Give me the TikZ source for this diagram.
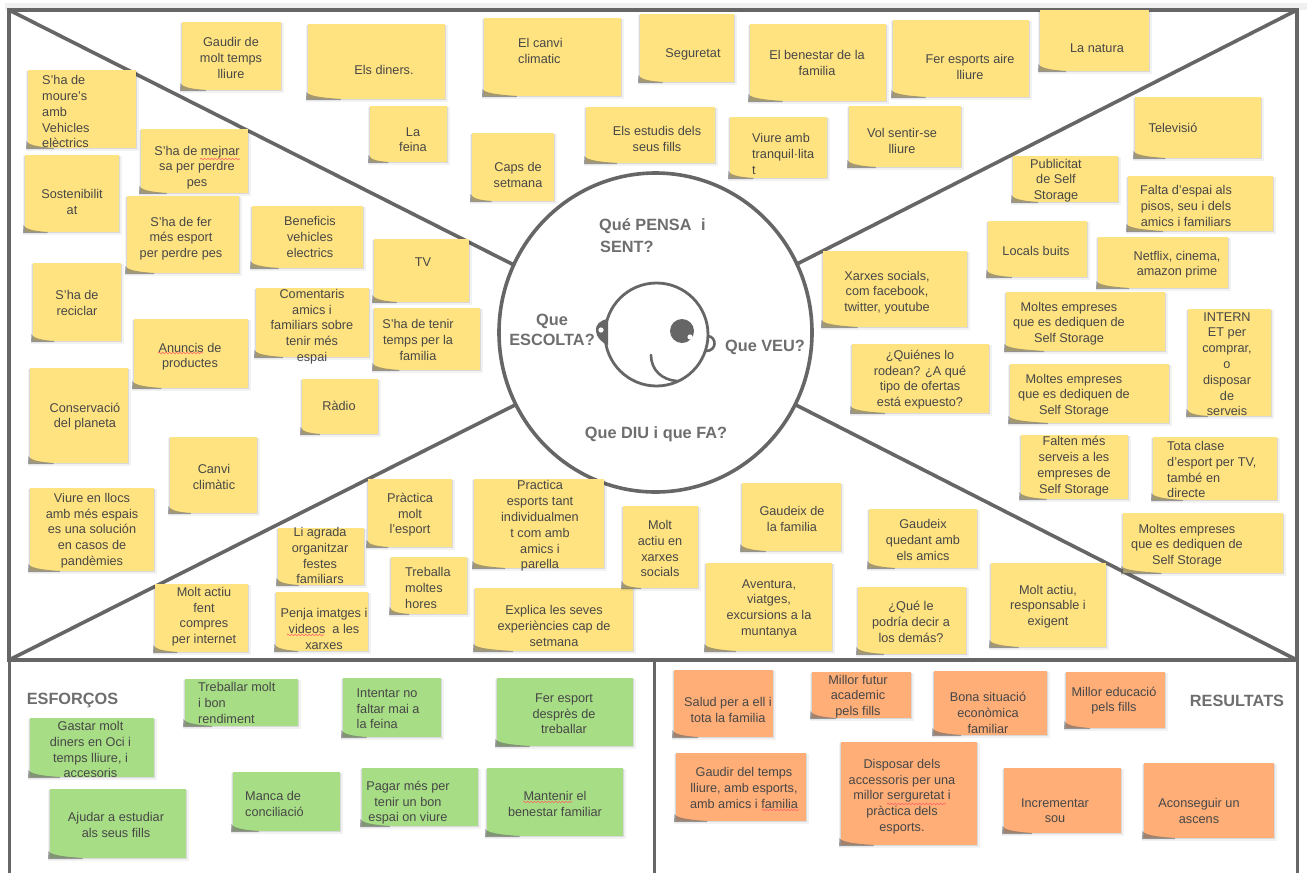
\documentclass[tikz,border=0pt]{standalone}
\usepackage{fontspec}
\setmainfont{Liberation Sans}
\usetikzlibrary{decorations.pathmorphing,shapes.geometric}
\definecolor{yel}{HTML}{FFE380}
\definecolor{grn}{HTML}{A7DD85}
\definecolor{org}{HTML}{FFAE78}
\definecolor{frm}{HTML}{666666}
\definecolor{lab}{HTML}{6E6E6E}
\definecolor{txt}{HTML}{474747}
\colorlet{stickcol}{yel}
\tikzset{
  frameline/.style={draw=frm,line width=4pt},
  raysline/.style={draw=frm,line width=3.6pt},
  lowline/.style={draw=frm,line width=3pt},
  stickbox/.style={fill=stickcol,draw=none,inner sep=0pt,outer sep=0pt},
  softshadow/.style={fill=black,fill opacity=.10},
  softshadowb/.style={fill=black,fill opacity=.05},
  cornershadow/.style={fill=frm,fill opacity=.6},
  txc/.style={text=txt,font=\fontsize{12.7}{15.8}\selectfont,align=center,inner sep=0pt},
  txl/.style={text=txt,font=\fontsize{12.7}{15.8}\selectfont,align=left,inner sep=0pt,anchor=west},
  bigl/.style={text=lab,font=\fontsize{16.3}{20}\selectfont\bfseries,inner sep=0pt},
  bigla/.style={bigl,align=left,anchor=west},
  biglc/.style={bigl,align=center},
  hubshape/.style={ellipse,draw=frm,line width=3.6pt,inner sep=0pt,minimum width=313pt,minimum height=319pt},
  spell/.style={draw=red!60!white,line width=.6pt,decorate,decoration={snake,amplitude=.8pt,segment length=3.5pt}},
  facel/.style={draw=frm,line width=2.8pt,line cap=round}
}
% name, text, x0,y0,x1,y1, text style, text position
\newcommand{\stick}[8]{%
  \pgfmathsetmacro{\sw}{#5-#3}%
  \pgfmathsetmacro{\sh}{#6-#4}%
  \pgfmathsetmacro{\scx}{(#3+#5)/2}%
  \pgfmathsetmacro{\scy}{(#4+#6)/2}%
  \pgfmathsetmacro{\swedge}{#3+0.24*\sw}%
  \fill[softshadowb] (#3-2.5,#4+1) rectangle (#5+2.5,#6+2.6);
  \fill[softshadow] (#3-1,#4+1) rectangle (#5+1.2,#6+1.4);
  \node[stickbox,minimum width=\sw pt,minimum height=\sh pt] (#1) at (\scx,\scy) {};
  \fill[cornershadow] (#3-1.5,#6-7) .. controls (#3+.5,#6-2) and (\swedge-10,#6-.8) .. (\swedge,#6) -- (\swedge,#6+1) -- (#3-2,#6+1) -- cycle;
  \node[#7,yshift=-.7pt] (#1t) at (#8) {#2};
}
\begin{document}
\begin{tikzpicture}[x=1pt,y=-1pt]
\useasboundingbox (0,0) rectangle (1307,873);
\fill[white] (0,0) rectangle (1307,873);
\fill[black!6] (5,3) rectangle (1307,10);

\coordinate (tl) at (9,10);
\coordinate (tr) at (1297,10);
\coordinate (bl) at (9,660);
\coordinate (br) at (1297,660);
\coordinate (lb) at (9,873);
\coordinate (rb) at (1297,873);
\coordinate (mt) at (654,660);
\coordinate (mb) at (654,873);
\coordinate (ctl) at (514,265);
\coordinate (ctr) at (797,264);
\coordinate (cbl) at (515,405);
\coordinate (cbr) at (796,405);

\draw[raysline] (tl) -- (ctl);
\draw[raysline] (tr) -- (ctr);
\draw[raysline] (bl) -- (cbl);
\draw[raysline] (br) -- (cbr);
\draw[lowline] (bl) -- (lb);
\draw[lowline] (br) -- (rb);
\draw[lowline] (mt) -- (mb);
\draw[frameline] (tl) rectangle (br);
\node[hubshape] (hub) at (655.5,332.5) {};

% head
\draw[facel] (656.5,334.5) circle (51.5);
\fill[frm] (682,331) circle (12);
\fill[white] (690,337) circle (2.6);
\draw[facel,line width=2.6pt] (651,355) .. controls (651,370) and (662,380) .. (677,381);
\draw[facel,line width=2.6pt] (708,336) .. controls (717,337) and (717,351) .. (706,351);
\fill[frm] (608,319) .. controls (600,320) and (595,325) .. (596,331) .. controls (596,337) and (602,343) .. (608,345) -- cycle;
\fill[white] (601,330) circle (2.6);

% headings
\node[bigla] (qpensa) at (599,226.5) {Qué PENSA\hspace{5pt} i};
\node[bigla] (qsent) at (600,246.5) {SENT?};
\node[biglc] (qesc) at (552,329.5) {Que\\ESCOLTA?};
\node[biglc] (qveu) at (765,347.5) {Que VEU?};
\node[biglc] (qdiu) at (656,434.5) {Que DIU i que FA?};
\node[biglc] (esf) at (72.5,700.5) {ESFORÇOS};
\node[biglc] (res) at (1237,700.5) {RESULTATS};

% yellow notes
\colorlet{stickcol}{yel}
\stick{a1}{Gaudir de\\molt temps\\lliure}{182}{22}{281}{90}{txc}{231,57}
\stick{a2}{Els diners.}{308}{24}{445}{99}{txc}{384,69}
\stick{a3}{La\\feina}{370}{106}{447}{162}{txc}{413,139}
\stick{a4}{S'ha de\\moure's\\amb\\Vehicles\\elèctrics}{28}{70}{136}{148}{txl}{42,111}
\stick{a5}{Sostenibilit\\at}{25}{155}{119}{232}{txc}{72,201}
\stick{a6}{S'ha de mejnar\\sa per perdre\\pes}{141}{129}{248}{193}{txc}{197,167}
\stick{a7}{S'ha de fer\\més esport\\per perdre pes}{127}{196}{239}{273}{txc}{181,238}
\stick{a8}{Beneficis\\vehicles\\electrics}{252}{206}{363}{268}{txc}{310,236}
\stick{a9}{TV}{374}{239}{469}{302}{txc}{423,261}
\stick{a10}{Comentaris\\amics i\\familiars sobre\\tenir més\\espai}{256}{288}{369}{357}{txc}{312,326}
\stick{a11}{S'ha de tenir\\temps per la\\familia}{374}{308}{480}{370}{txc}{418,339}
\stick{a12}{S'ha de\\reciclar}{33}{263}{121}{341}{txc}{77,302}
\stick{a13}{Anuncis de\\productes}{134}{319}{248}{388}{txc}{190,356}
\stick{a14}{Conservació\\del planeta}{30}{368}{128}{463}{txc}{85,416}
\stick{a15}{Ràdio}{302}{379}{378}{434}{txc}{339,405}
\stick{a16}{Canvi\\climàtic}{170}{437}{257}{513}{txc}{214,476}
\stick{a17}{Viure en llocs\\amb més espais\\es una solución\\en casos de\\pandèmies}{30}{488}{154}{571}{txc}{92,530}
\stick{b1}{El canvi\\climatic}{484}{18}{621}{96}{txl}{518,50}
\stick{b2}{Seguretat}{640}{14}{734}{82}{txc}{693,54}
\stick{b3}{El benestar de la\\familia}{750}{24}{886}{101}{txc}{817,62}
\stick{b4}{Fer esports aire\\lliure}{893}{20}{1029}{97}{txc}{970,66}
\stick{b5}{La natura}{1040}{10}{1149}{71}{txc}{1097,47}
\stick{b6}{Els estudis dels\\seus fills}{586}{107}{715}{163}{txc}{657,138}
\stick{b7}{Viure amb\\tranquil·lita\\t}{730}{117}{827}{178}{txl}{752,153}
\stick{b8}{Vol sentir-se\\lliure}{849}{106}{961}{167}{txc}{902,140}
\stick{b9}{Caps de\\setmana}{472}{133}{554}{201}{txc}{518,174}
\stick{c1}{Televisió}{1135}{97}{1261}{158}{txc}{1173,127}
\stick{c2}{Publicitat\\de Self\\Storage}{1013}{156}{1118}{202}{txc}{1056,180}
\stick{c3}{Falta d'espai als\\pisos, seu i dels\\amics i familiars}{1128}{176}{1273}{231}{txc}{1186,205}
\stick{c4}{Locals buits}{988}{221}{1087}{277}{txc}{1036,250}
\stick{c5}{Netflix, cinema,\\amazon prime}{1098}{237}{1228}{288}{txc}{1177,264}
\stick{c6}{Moltes empreses\\que es dediquen de\\Self Storage}{1006}{292}{1165}{351}{txc}{1069,323}
\stick{c7}{INTERN\\ET per\\comprar,\\o\\disposar\\de\\serveis}{1188}{309}{1271}{416}{txc}{1227,363.5}
\stick{c8}{Moltes empreses\\que es dediquen de\\Self Storage}{1010}{364}{1169}{423}{txc}{1074,395}
\stick{c9}{Xarxes socials,\\com facebook,\\twitter, youtube}{823}{251}{967}{327}{txc}{887,292}
\stick{c10}{¿Quiénes lo\\rodean? ¿A qué\\tipo de ofertas\\está expuesto?}{852}{344}{989}{413}{txc}{920,379}
\stick{c11}{Falten més\\serveis a les\\empreses de\\Self Storage}{1021}{435}{1128}{499}{txc}{1074,465.5}
\stick{c12}{Tota clase\\d'esport per TV,\\també en\\directe}{1153}{437}{1277}{500}{txl}{1167,469}
\stick{c13}{Moltes empreses\\que es dediquen de\\Self Storage}{1123}{513}{1283}{573}{txc}{1187,545}
\stick{d1}{Li agrada\\organitzar\\festes\\familiars}{278}{528}{364}{585}{txc}{320,555}
\stick{d2}{Pràctica\\molt\\l'esport}{368}{479}{452}{547}{txc}{410,514}
\stick{d3}{Treballa\\moltes\\hores}{391}{557}{467}{614}{txl}{405,587}
\stick{d4}{Practica\\esports tant\\individualmen\\t com amb\\amics i\\parella}{474}{479}{604}{568}{txc}{540,525.5}
\stick{d5}{Molt actiu\\fent\\compres\\per internet}{155}{584}{248}{652}{txc}{204,616}
\stick{d6}{Penja imatges i\\videos\hspace{3.5pt} a les\\xarxes}{276}{592}{368}{651}{txc}{324,628}
\stick{d7}{Explica les seves\\experiències cap de\\setmana}{475}{588}{633}{651}{txc}{554,625}
\stick{d8}{Molt\\actiu en\\xarxes\\socials}{623}{506}{698}{588}{txc}{660,548}
\stick{d9}{Gaudeix de\\la familia}{742}{483}{841}{551}{txc}{792,518}
\stick{d10}{Aventura,\\viatges,\\excursions a la\\muntanya}{706}{563}{832}{651}{txc}{769,608}
\stick{d11}{Gaudeix\\quedant amb\\els amics}{869}{509}{977}{568}{txc}{923,539}
\stick{d12}{¿Qué le\\podría decir a\\los demás?}{858}{587}{966}{654}{txc}{911,621}
\stick{d13}{Molt actiu,\\responsable i\\exigent}{991}{563}{1106}{647}{txc}{1048,606}

% green notes
\colorlet{stickcol}{grn}
\stick{e1}{Treballar molt\\i bon\\rendiment}{185}{679}{298}{726}{txl}{198,702}
\stick{e2}{Intentar no\\faltar mai a\\la feina}{343}{678}{441}{737}{txl}{356.5,708}
\stick{e3}{Fer esport\\desprès de\\treballar}{497}{678}{633}{746}{txc}{564,713}
\stick{e4}{Gastar molt\\diners en Oci i\\temps lliure, i\\accesoris}{30}{718}{154}{777}{txc}{90.5,749}
\stick{e5}{Ajudar a estudiar\\als seus fills}{50}{789}{186}{858}{txc}{116,824}
\stick{e6}{Manca de\\conciliació}{233}{772}{340}{831}{txl}{245,803}
\stick{e7}{Pagar més per\\tenir un bon\\espai on viure}{362}{768}{478}{826}{txc}{408,802}
\stick{e8}{Mantenir el\\benestar familiar}{487}{768}{623}{836}{txc}{555,803}

% orange notes
\colorlet{stickcol}{org}
\stick{f1}{Salud per a ell i\\tota la familia}{674}{670}{773}{737}{txc}{728,709.5}
\stick{f2}{Millor futur\\academic\\pels fills}{812}{672}{911}{718}{txc}{858,696}
\stick{f3}{Bona situació\\econòmica\\familiar}{934}{671}{1047}{735}{txc}{988,712}
\stick{f4}{Millor educació\\pels fills}{1066}{672}{1165}{728}{txc}{1114,700}
\stick{f5}{Gaudir del temps\\lliure, amb esports,\\amb amics i familia}{676}{753}{806}{821}{txc}{744,787}
\stick{f6}{Disposar dels\\accessoris per una\\millor serguretat i\\pràctica dels\\esports.}{841}{742}{977}{845}{txc}{902,796}
\stick{f7}{Incrementar\\sou}{1004}{768}{1121}{833}{txc}{1055,810}
\stick{f8}{Aconseguir un\\ascens}{1144}{763}{1274}{838}{txc}{1199,810}

% spelling underlines
\draw[spell] (200,159) -- (240,159);
\draw[spell] (158,353) -- (203,353);
\draw[spell] (287,635) -- (324,635);
\draw[spell] (523,802) -- (572,802);
\draw[spell] (762,810) -- (799,810);
\draw[spell] (887,804) -- (946,804);
\end{tikzpicture}
\end{document}
